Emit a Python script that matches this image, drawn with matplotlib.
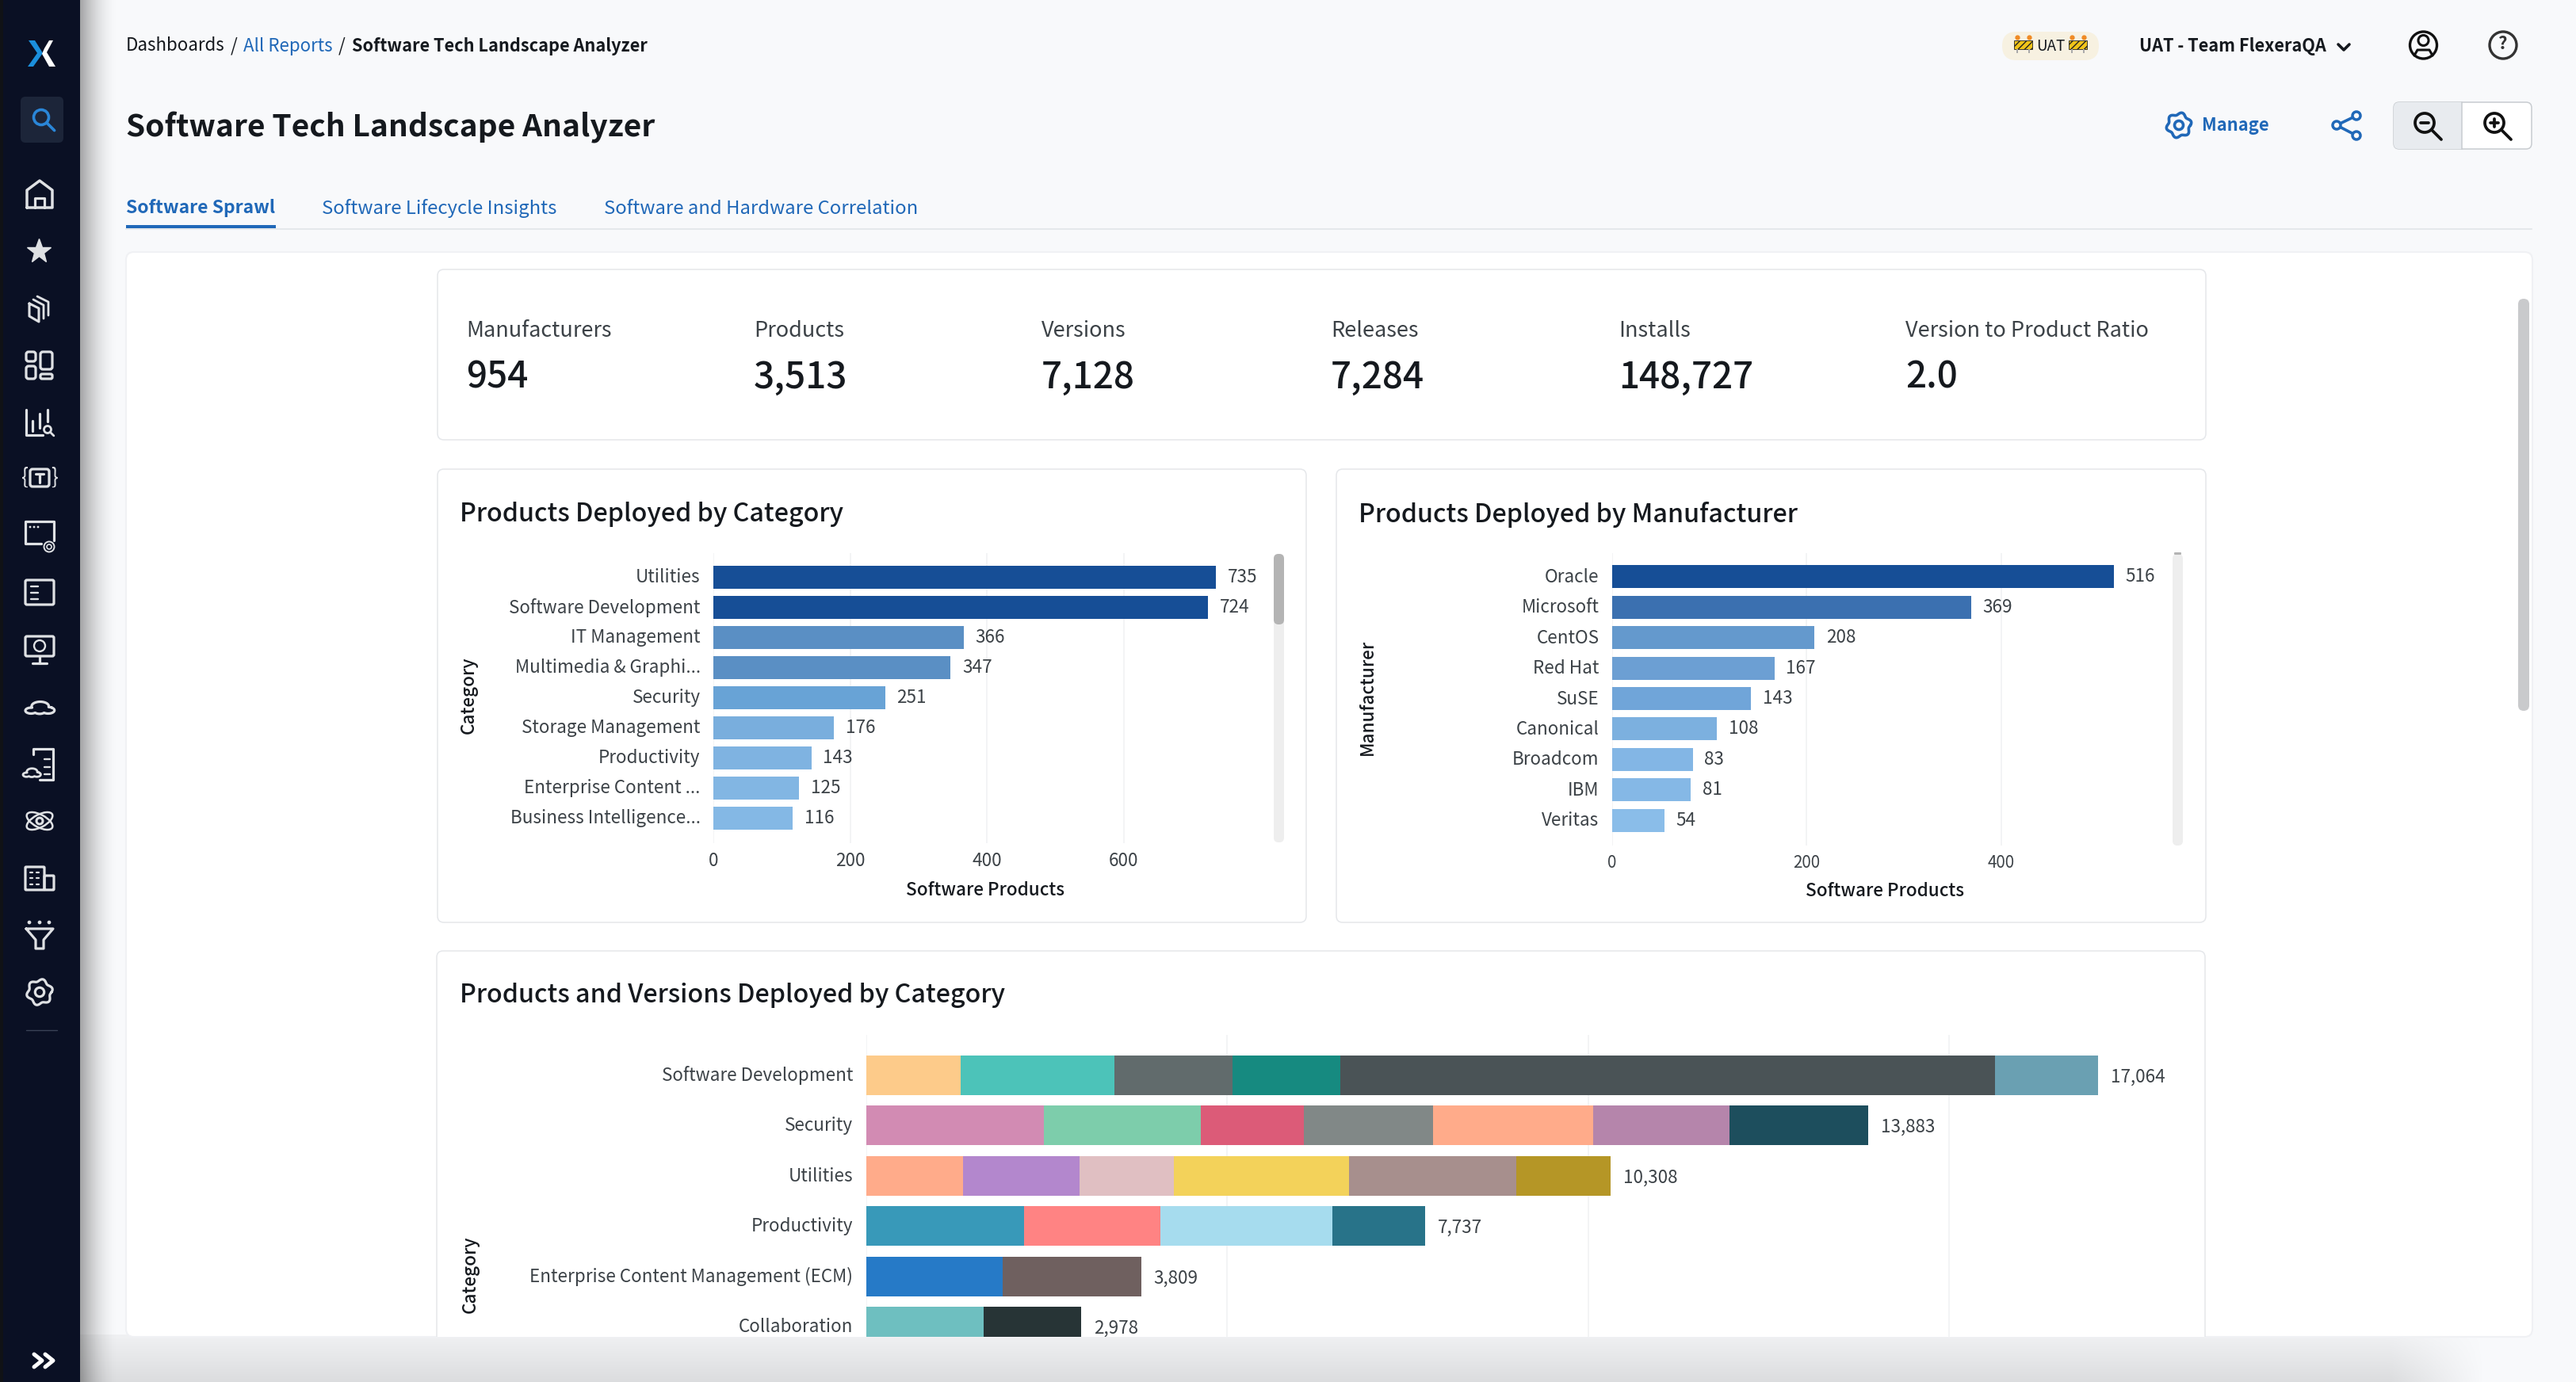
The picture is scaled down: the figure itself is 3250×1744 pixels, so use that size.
import numpy as np
import matplotlib
matplotlib.use("Agg")
import matplotlib.pyplot as plt
from matplotlib.patches import FancyBboxPatch, Rectangle, Circle, Ellipse, Polygon
from matplotlib.transforms import ScaledTranslation

plt.rcParams['font.family'] = ['Noto Sans CJK JP', 'DejaVu Sans']

W, H, DPI = 3250, 1744, 100

# ---------- data ----------
kpi_labels = ["Manufacturers", "Products", "Versions", "Releases", "Installs", "Version to Product Ratio"]
kpi_values = ["954", "3,513", "7,128", "7,284", "148,727", "2.0"]

cat_names = ["Utilities", "Software Development", "IT Management", "Multimedia & Graphi...", "Security",
             "Storage Management", "Productivity", "Enterprise Content ...", "Business Intelligence..."]
cat_values = [735, 724, 366, 347, 251, 176, 143, 125, 116]
cat_colors = ["#164e96", "#164e96", "#5a8fc4", "#5a8fc4", "#68a3d6", "#79aedd", "#7fb3e1", "#82b6e3", "#84b8e5"]

man_names = ["Oracle", "Microsoft", "CentOS", "Red Hat", "SuSE", "Canonical", "Broadcom", "IBM", "Veritas"]
man_values = [516, 369, 208, 167, 143, 108, 83, 81, 54]
man_colors = ["#164e96", "#3b70b0", "#6499cd", "#6c9fd3", "#70a5d9", "#7cb0df", "#83b6e5", "#85b8e6", "#8abde9"]

stack_names = ["Software Development", "Security", "Utilities", "Productivity",
               "Enterprise Content Management (ECM)", "Collaboration"]
stack_totals = [17064, 13883, 10308, 7737, 3809, 2978]
seg_software = [1313, 2126, 1638, 1491, 9065, 1431]
seg_security = [2459, 2177, 1431, 1788, 2218, 1883, 1927]
seg_utilities = [1342, 1617, 1303, 2421, 2323, 1302]
seg_productivity = [2185, 1891, 2381, 1280]
seg_ecm = [1891, 1918]
seg_collab = [1627, 1351]
col_software = ["#fdcb8a", "#4cc3b9", "#616b6c", "#168a80", "#4a5356", "#6aa0b2"]
col_security = ["#d28bb3", "#7dcdab", "#dc5b78", "#818887", "#ffab8a", "#b585ab", "#1d4e5d"]
col_utilities = ["#ffab8a", "#b387cd", "#e0bfc2", "#f3d25a", "#a78f8d", "#b59626"]
col_productivity = ["#3899b9", "#ff8383", "#a6dcee", "#287389"]
col_ecm = ["#267ac7", "#6f605f"]
col_collab = ["#6ebfc0", "#273436"]
stack_segments = [seg_software, seg_security, seg_utilities, seg_productivity, seg_ecm, seg_collab]
stack_colors = [col_software, col_security, col_utilities, col_productivity, col_ecm, col_collab]

# ---------- page ----------
BG = "#f8f9fb"; SIDE = "#0a1024"; BLUE = "#2068b8"; INK = "#15191e"; GREY = "#3c4247"; ICON = "#dfe1e4"
fig = plt.figure(figsize=(W / DPI, H / DPI), dpi=DPI, facecolor=BG)
bg = fig.add_axes([0, 0, 1, 1], zorder=0)
bg.set_xlim(0, W); bg.set_ylim(H, 0); bg.axis("off")

def T(x, y, s, size, color=INK, weight="normal", ha="left", va="center", z=3, **k):
    return bg.text(x, y, s, fontsize=size, color=color, fontweight=weight, ha=ha, va=va, zorder=z, **k)

def rrect(x0, y0, x1, y1, r=10, fc="white", ec="none", lw=1.0, z=1):
    p = FancyBboxPatch((x0, y0), x1 - x0, y1 - y0, boxstyle=f"round,pad=0,rounding_size={r}",
                       fc=fc, ec=ec, lw=lw, zorder=z)
    bg.add_patch(p)
    return p

# bottom band (shadow falling off to the page bottom)
ny = 60; nx = 400
v = np.linspace(0.035, 0.115, ny)[:, None]
h = np.clip((3140 - np.linspace(100, 3250, nx)) / 120, 0, 1)[None, :]
a = np.zeros((ny, nx, 4)); a[..., 3] = v * h
bg.imshow(a, extent=(101, W, H, 1684), aspect="auto", zorder=0.5, interpolation="bilinear")

main = rrect(159, 318, 3195, 1687, r=10, fc="white", ec="#f0f1f4", lw=1.5, z=1)

# side bar shadow
nx2 = 60
s = np.zeros((1, nx2, 4)); s[..., 3] = np.linspace(0.55, 0, nx2) ** 1.8
bg.imshow(s, extent=(101, 150, H, 0), aspect="auto", zorder=1.5, interpolation="bilinear")
bg.set_xlim(0, W); bg.set_ylim(H, 0)
bg.add_patch(Rectangle((0, 0), 101, H, fc=SIDE, ec="none", zorder=2))
bg.add_patch(Rectangle((0, 0), 4, H, fc="#101216", ec="none", zorder=2.1))

# ---------- icon helpers ----------
def L(pts, color=ICON, lw=2.3, z=3, closed=False):
    a = np.array(list(pts) + ([pts[0]] if closed else []), float)
    bg.plot(a[:, 0], a[:, 1], color=color, lw=lw, zorder=z, solid_capstyle="round", solid_joinstyle="round")

def B(x0, y0, x1, y1, color=ICON, lw=2.3, r=3, fc="none", z=3):
    bg.add_patch(FancyBboxPatch((x0, y0), x1 - x0, y1 - y0, boxstyle=f"round,pad=0,rounding_size={r}",
                                fc=fc, ec=color, lw=lw, zorder=z))

def C(x, y, r, color=ICON, lw=2.3, fc="none", z=3):
    bg.add_patch(Circle((x, y), r, fc=fc, ec=color, lw=lw, zorder=z))

def magnifier(x, y, r, color, lw, sign=None):
    C(x, y, r, color, lw, z=6)
    L([(x + r * .72, y + r * .72), (x + r * 1.75, y + r * 1.75)], color, lw, z=6)
    if sign:
        L([(x - r * .45, y), (x + r * .45, y)], color, lw, z=6)
    if sign == "+":
        L([(x, y - r * .45), (x, y + r * .45)], color, lw, z=6)

def gear(x, y, r, color=ICON, lw=2.3):
    t = np.linspace(0, 2 * np.pi, 121)
    R = r * (1 + 0.11 * np.cos(6 * t + np.pi / 2))
    L(list(zip(x + R * np.cos(t), y + R * np.sin(t))), color, lw)
    C(x, y, r * .38, color, lw)

def cloud(x, y, w, h_, lw=2.3):
    # outline of a union of three lobes and a flat base
    circles = [(-.30, .20, .20), (.02, -.10, .30), (.30, .18, .22), (0, .22, .20)]
    t = np.linspace(0, 2 * np.pi, 240, endpoint=False)
    rr = np.zeros_like(t)
    for i, ang in enumerate(t):
        dx, dy = np.cos(ang), np.sin(ang)
        for cx, cy, r in circles:
            b = cx * dx + cy * dy
            d = b * b - (cx * cx + cy * cy - r * r)
            if d > 0:
                rr[i] = max(rr[i], b + np.sqrt(d))
    px = x + w * rr * np.cos(t) * 1.0
    py = y + h_ * rr * np.sin(t) * 1.1
    L(list(zip(px, py)), lw=lw, closed=True)

# ---------- side bar icons ----------
bg.add_patch(Polygon([(36, 51), (44, 51), (54, 67), (42, 84), (35, 84), (47, 67)], fc="#1b8fdc", ec="none", zorder=3))
bg.add_patch(Polygon([(56, 61), (62, 51), (67, 51), (59, 66), (70, 84), (62, 84), (53, 68)], fc="white", ec="none", zorder=3))

rrect(26, 122, 80, 180, r=6, fc="#1c2539", z=2.5)
magnifier(52, 148, 9.5, "#2a86d8", 2.6)

# home
L([(34, 262), (34, 240), (50, 228), (66, 240), (66, 262)], closed=True, lw=2.5)
L([(44, 262), (44, 250), (56, 250), (56, 262)], lw=2.3)
# star
bg.plot([49], [317], marker="*", ms=23, color=ICON, mec=ICON, zorder=3, ls="none")
# stacked sheets
L([(37, 383), (49, 389), (49, 406), (37, 399)], closed=True, lw=2.2)
L([(42, 378), (55, 385), (55, 402)], lw=2.0)
L([(47, 374), (61, 381), (61, 398)], lw=2.0)
# grid
B(33, 444, 45, 456, r=3); B(51, 444, 66, 466, r=3); B(33, 462, 45, 478, r=3); B(51, 472, 66, 478, r=2)
# chart with lens
L([(33, 517), (33, 549), (54, 549)])
for x_, y0_, y1_ in [(41, 531, 544), (50, 522, 540), (60, 517, 532)]:
    L([(x_, y0_), (x_, y1_)])
magnifier(60, 542, 4.5, ICON, 2.0)
# {T}
T(31, 602, "{", 19, ICON, ha="center")
T(69, 602, "}", 19, ICON, ha="center")
B(38, 592, 62, 614, r=3)
L([(45, 598), (55, 598)]); L([(50, 598), (50, 609)])
# browser with fingerprint
L([(68, 682), (68, 658), (32, 658), (32, 686), (52, 686)])
for xx in (38, 43, 48):
    C(xx, 665, 0.7, ICON, 1.0, fc=ICON)
C(62, 690, 6.5, ICON, 1.4); C(62, 690, 3, ICON, 1.2)
# panel
B(32, 732, 68, 763, r=2)
for y_ in (740, 748, 756):
    L([(39, y_), (48, y_)], lw=1.7)
# monitor
B(32, 803, 68, 828, r=2)
C(50, 815, 7, ICON, 1.7)
L([(50, 828), (50, 837)]); L([(41, 837), (59, 837)])
# cloud
cloud(50, 893, 36, 17)
# cloud document
L([(42, 952), (42, 945), (67, 945), (67, 984), (50, 984)])
for yy in (958, 968, 977):
    L([(56, yy), (63, yy)], lw=1.7)
cloud(40, 975, 22, 12, lw=2.0)
# atom
C(50, 1036, 4, ICON, 2.2)
bg.add_patch(Ellipse((50, 1036), 36, 16, angle=28, fc="none", ec=ICON, lw=1.8, zorder=3))
bg.add_patch(Ellipse((50, 1036), 36, 16, angle=-28, fc="none", ec=ICON, lw=1.8, zorder=3))
# building
B(32, 1094, 56, 1123, r=1)
B(56, 1105, 68, 1123, r=1)
for xx in (40, 48):
    for yy in (1101, 1108, 1116):
        L([(xx - 2, yy), (xx + 1, yy)], lw=1.6)
# funnel
L([(33, 1172), (67, 1172), (55, 1186), (55, 1197), (45, 1197), (45, 1186)], closed=True)
for xx in (37, 50, 62):
    C(xx, 1164, 1.3, ICON, 1.5, fc=ICON)
# gear
gear(50, 1252, 15)
# separator and expand arrows
L([(33, 1300), (72, 1300)], "#3a4256", 1.0)
for dx in (0, 14):
    L([(43 + dx, 1709), (53 + dx, 1717), (43 + dx, 1725)], "white", 3.6)

# ---------- header ----------
T(159, 58, "Dashboards", 16.1, INK)
T(295, 58, "/", 16.1, INK, ha="center")
T(307, 58, "All Reports", 16.1, BLUE)
T(431, 58, "/", 16.1, INK, ha="center")
T(444, 58, "Software Tech Landscape Analyzer", 15.6, INK, "bold")
T(159, 161, "Software Tech Landscape Analyzer", 28, INK, "bold")

T(159, 263, "Software Sprawl", 16.5, BLUE, "bold")
T(406, 263, "Software Lifecycle Insights", 17.2, BLUE)
T(762, 263, "Software and Hardware Correlation", 17.2, BLUE)
bg.plot([159, 3194], [288.7, 288.7], color="#e2e5e8", lw=1.2, zorder=1)
bg.add_patch(Rectangle((159, 284), 189, 4.5, fc=BLUE, ec="none", zorder=1.2))

# UAT pill
rrect(2526, 40, 2648, 76, r=18, fc="#f7f1e1", z=1)
T(2587, 58, "UAT", 13.5, INK, ha="center")
for bx in (2541, 2610):
    bg.add_patch(Rectangle((bx, 51), 23, 11, fc="#f0c419", ec="#222", lw=0.6, hatch="////", zorder=2))
    bg.add_patch(Rectangle((bx + 3, 62), 2, 5, fc="#aaa", zorder=2))
    bg.add_patch(Rectangle((bx + 18, 62), 2, 5, fc="#aaa", zorder=2))
    bg.plot([bx + 4, bx + 19], [47, 47], ls="none", marker="o", ms=3.5, color="#f08a24", zorder=2)
T(2699, 58, "UAT - Team FlexeraQA", 15.6, INK, "bold")
L([(2950, 56), (2957, 63), (2964, 56)], INK, 2.6)
C(3057.5, 57, 17, "#111", 2.4)
C(3057.5, 51, 6.5, "#111", 2.2)
L([(3046, 70), (3050, 63), (3065, 63), (3069, 70)], "#111", 2.2)
C(3158, 57, 17, "#333", 2.4)
T(3158, 56, "?", 16, "#333", "bold", ha="center")

gear(2749, 158, 14.5, BLUE, 2.6)
T(2778, 159, "Manage", 15.8, BLUE, "bold")
L([(2973, 146), (2948, 158), (2973, 171)], BLUE, 2.6)
for (px, py) in [(2973, 146), (2948, 158), (2973, 171)]:
    C(px, py, 5, BLUE, 2.5, fc=BG, z=6)

rrect(3020, 129, 3194, 188, r=7, fc="white", ec="#c8ccd0", lw=1.1, z=1)
p = rrect(3020, 129, 3194, 188, r=7, fc="#e8ebef", z=1.1)
p.set_clip_path(Rectangle((3020, 129), 86, 59, transform=bg.transData))
bg.plot([3106, 3106], [129, 188], color="#c8ccd0", lw=1.1, zorder=1.3)
magnifier(3059, 155, 12, "#111", 2.7, "-")
magnifier(3147, 155, 12, "#111", 2.7, "+")

# ---------- cards ----------
CARD = "#e5e7ea"
rrect(552, 340, 2783, 555, r=8, ec=CARD, lw=1.1, z=1.2)
rrect(552, 592, 1648, 1164, r=8, ec=CARD, lw=1.1, z=1.2)
rrect(1686, 592, 2783, 1164, r=8, ec=CARD, lw=1.1, z=1.2)
c3 = rrect(551, 1200, 2782, 1800, r=8, ec=CARD, lw=1.1, z=1.2)
c3.set_clip_path(main)

kpi_x = [588, 951, 1314, 1679, 2042, 2404]
for x_, lab, val in zip(kpi_x, kpi_labels, kpi_values):
    T(x_, 417, lab, 19.5, "#3c4247")
    T(x_, 476, val, 33, INK, "medium")

T(580, 649, "Products Deployed by Category", 23.2, INK, "medium")
T(1714, 649, "Products Deployed by Manufacturer", 23.2, INK, "medium")
T(580, 1256, "Products and Versions Deployed by Category", 23.2, INK, "medium")

# page scroll bar
rrect(3177, 377, 3191, 897, r=7, fc="#c9cacc", z=1.3)

# ---------- charts ----------
def new_axes(x0, y0, x1, y1):
    ax = fig.add_axes([x0 / W, 1 - y1 / H, (x1 - x0) / W, (y1 - y0) / H], zorder=2)
    ax.patch.set_alpha(0)
    for sp in ax.spines.values():
        sp.set_visible(False)
    ax.set_axisbelow(True)
    ax.grid(axis="x", color="#f0f1f3", lw=1.1)
    ax.tick_params(axis="both", length=0)
    return ax

def lift_ytick_labels(ax, px=2):
    shift = ScaledTranslation(0, px / DPI, fig.dpi_scale_trans)
    for lab in ax.get_yticklabels():
        lab.set_transform(lab.get_transform() + shift)

def hbar_chart(ax, names, values, colors, height, tick_fs, val_fs, xtick_fs, pad_y):
    y = np.arange(len(names))
    ax.barh(y, values, height=height, color=colors, edgecolor="none", zorder=2)
    ax.set_yticks(y, names, fontsize=tick_fs, color=GREY)
    ax.tick_params(axis="y", pad=12)
    ax.tick_params(axis="x", labelsize=xtick_fs, labelcolor=GREY, pad=pad_y)
    for yi, v_ in zip(y, values):
        ax.annotate(f"{v_:,}", (v_, yi), xytext=(10.5, 0), textcoords="offset points", va="center",
                    fontsize=val_fs, color=GREY)

# Category
ax1 = new_axes(900.3, 698, 1585, 1064)
ax1.set_xlim(0, 685 / 0.8625); ax1.set_ylim(-0.79 + 366 / 38, -0.79)
hbar_chart(ax1, cat_names, cat_values, cat_colors, 29 / 38, 16.2, 16.2, 16.2, 8)
ax1.set_xticks([0, 200, 400, 600])
ax1.set_xlabel("Software Products", fontsize=16.2, fontweight="medium", color=INK, labelpad=10)
ax1.set_ylabel("Category", fontsize=16.2, fontweight="medium", color=INK)
ax1.yaxis.set_label_coords((603 - 900.3) / 684.7, 1 - (877 - 698) / 366)

# Manufacturer
ax2 = new_axes(2034, 698, 2721, 1067)
ax2.set_xlim(0, 687 / 1.2263); ax2.set_ylim(-0.78 + 369 / 38.4, -0.78)
hbar_chart(ax2, man_names, man_values, man_colors, 29 / 38.4, 16.2, 16.2, 14.8, 8)
ax2.set_xticks([0, 200, 400])
ax2.set_xlabel("Software Products", fontsize=16.2, fontweight="medium", color=INK, labelpad=9)
ax2.set_ylabel("Manufacturer", fontsize=16.2, fontweight="medium", color=INK)
ax2.yaxis.set_label_coords((1737 - 2034) / 687, 1 - (880 - 698) / 369)

# Stacked
ax3 = new_axes(1092.7, 1305.5, 2780, 1687)
ax3.set_xlim(0, (2780 - 1092.7) / 0.0911); ax3.set_ylim(-0.812 + 381.5 / 63.4, -0.812)
ys = np.arange(len(stack_names))
for yi, segs, cols, tot in zip(ys, stack_segments, stack_colors, stack_totals):
    left = 0
    for val, col in zip(segs, cols):
        ax3.barh(yi, val, left=left, height=50 / 63.4, color=col, edgecolor="none", zorder=2)
        left += val
    ax3.annotate(f"{tot:,}", (tot, yi), xytext=(11.5, -1.5), textcoords="offset points", va="center",
                 fontsize=16.2, color=GREY, annotation_clip=False, clip_on=True)
ax3.set_yticks(ys, stack_names, fontsize=16.2, color=GREY)
ax3.tick_params(axis="y", pad=12)
ax3.set_xticks([0, 5000, 10000, 15000])
ax3.tick_params(axis="x", labelbottom=False)
ax3.set_ylabel("Category", fontsize=16.2, fontweight="medium", color=INK)
ax3.yaxis.set_label_coords((605 - 1092.7) / 1687.3, 1 - (1608 - 1305.5) / 381.5)

for ax_ in (ax1, ax2, ax3):
    lift_ytick_labels(ax_)

# chart scroll bars
rrect(1607, 699, 1620, 1063, r=6, fc="#eeeeee", z=1.3)
rrect(1607, 699, 1620, 788, r=6, fc="#b4b4b4", z=1.4)
rrect(2741, 699, 2754, 1067, r=6, fc="#eeeeee", z=1.3)
rrect(2743, 697, 2752, 700, r=1, fc="#b4b4b4", z=1.4)

fig.savefig("out.png", dpi=DPI, facecolor=BG)
